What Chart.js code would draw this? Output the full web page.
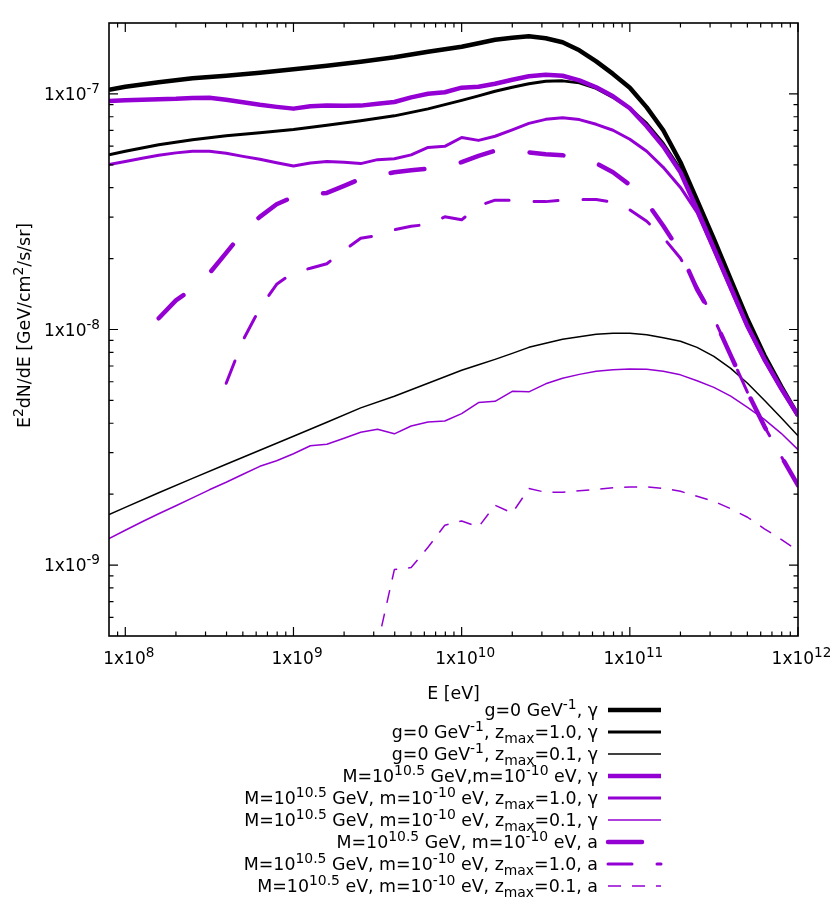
<!DOCTYPE html>
<html>
<head>
<meta charset="utf-8">
<script src="https://cdn.jsdelivr.net/npm/chart.js@4/dist/chart.umd.min.js"></script>
<style>
html,body{margin:0;padding:0;background:#ffffff;}
#c{display:block;}
</style>
</head>
<body>
<canvas id="c" width="830" height="907"></canvas>
<script>
// ---------------- data ----------------
const X_MIN = 8e7, X_MAX = 1e12;
const Y_MIN = 5e-10, Y_MAX = 2e-7;

const X_TICKS = [1e8, 1e9, 1e10, 1e11, 1e12];
const X_TICK_LABELS = ['1x10^{8}', '1x10^{9}', '1x10^{10}', '1x10^{11}', '1x10^{12}'];
const Y_TICKS = [1e-9, 1e-8, 1e-7];
const Y_TICK_LABELS = ['1x10^{-9}', '1x10^{-8}', '1x10^{-7}'];

// energies [eV]
const ENERGY_FINE = [8e7, 1e8, 1.26e8, 1.58e8, 2e8, 2.51e8, 3.16e8, 3.98e8, 5.01e8, 6.31e8, 7.94e8,
  1e9, 1.26e9, 1.58e9, 2e9, 2.51e9, 3.16e9, 3.98e9, 5.01e9, 6.31e9, 7.94e9,
  1e10, 1.26e10, 1.58e10, 2e10, 2.51e10, 3.16e10, 3.98e10, 5.01e10, 6.31e10, 7.94e10,
  1e11, 1.26e11, 1.58e11, 2e11, 2.51e11, 3.16e11, 3.98e11, 5.01e11, 6.31e11, 7.94e11, 1e12];
const ENERGY_BLACK = [8e7, 1e8, 1.58e8, 2.51e8, 3.98e8, 6.31e8,
  1e9, 1.58e9, 2.51e9, 3.98e9, 6.31e9,
  1e10, 1.26e10, 1.58e10, 2e10, 2.51e10, 3.16e10, 3.98e10, 5.01e10, 6.31e10, 7.94e10,
  1e11, 1.26e11, 1.58e11, 2e11, 2.51e11, 3.16e11, 3.98e11, 5.01e11, 6.31e11, 7.94e11, 1e12];
const ENERGY_AXION_ALL = ENERGY_FINE.slice(3);   // from 1.58e8
const ENERGY_AXION_Z1 = ENERGY_FINE.slice(7);    // from 3.98e8
const ENERGY_AXION_Z01 = ENERGY_FINE.slice(15);  // from 2.51e9

// E^2 dN/dE [GeV/cm^2/s/sr]
const G0_GAMMA = [1.041e-7, 1.072e-7, 1.120e-7, 1.165e-7, 1.194e-7, 1.229e-7,
  1.272e-7, 1.316e-7, 1.368e-7, 1.430e-7, 1.509e-7,
  1.585e-7, 1.640e-7, 1.697e-7, 1.730e-7, 1.756e-7, 1.722e-7, 1.656e-7, 1.531e-7, 1.375e-7, 1.216e-7,
  1.063e-7, 8.77e-8, 7.01e-8, 5.13e-8, 3.54e-8, 2.427e-8, 1.634e-8, 1.105e-8, 7.77e-9, 5.74e-9, 4.32e-9];
const G0_Z1_GAMMA = [5.52e-8, 5.71e-8, 6.08e-8, 6.39e-8, 6.64e-8, 6.84e-8,
  7.07e-8, 7.36e-8, 7.69e-8, 8.07e-8, 8.64e-8,
  9.39e-8, 9.81e-8, 1.026e-7, 1.067e-7, 1.104e-7, 1.131e-7, 1.136e-7, 1.114e-7, 1.056e-7, 9.67e-8,
  8.69e-8, 7.50e-8, 6.17e-8, 4.79e-8, 3.37e-8, 2.30e-8, 1.555e-8, 1.062e-8, 7.62e-9, 5.68e-9, 4.32e-9];
const G0_Z01_GAMMA = [1.637e-9, 1.758e-9, 2.027e-9, 2.335e-9, 2.678e-9, 3.071e-9,
  3.521e-9, 4.04e-9, 4.65e-9, 5.21e-9, 5.91e-9,
  6.71e-9, 7.08e-9, 7.47e-9, 7.92e-9, 8.40e-9, 8.74e-9, 9.09e-9, 9.31e-9, 9.54e-9, 9.63e-9,
  9.63e-9, 9.50e-9, 9.22e-9, 8.91e-9, 8.40e-9, 7.69e-9, 6.84e-9, 5.91e-9, 5.01e-9, 4.22e-9, 3.54e-9];
const ALP_GAMMA = [9.33e-8, 9.39e-8, 9.44e-8, 9.49e-8, 9.53e-8, 9.62e-8, 9.64e-8, 9.44e-8, 9.21e-8, 8.99e-8, 8.81e-8,
  8.66e-8, 8.86e-8, 8.94e-8, 8.90e-8, 8.92e-8, 9.09e-8, 9.24e-8, 9.67e-8, 1.001e-7, 1.016e-7,
  1.063e-7, 1.072e-7, 1.104e-7, 1.148e-7, 1.188e-7, 1.205e-7, 1.194e-7, 1.142e-7, 1.067e-7, 9.77e-8,
  8.69e-8, 7.29e-8, 5.99e-8, 4.65e-8, 3.24e-8, 2.211e-8, 1.510e-8, 1.032e-8, 7.47e-9, 5.63e-9, 4.32e-9];
const ALP_Z1_GAMMA = [5.01e-8, 5.17e-8, 5.33e-8, 5.49e-8, 5.62e-8, 5.71e-8, 5.71e-8, 5.60e-8, 5.43e-8, 5.28e-8, 5.10e-8,
  4.94e-8, 5.09e-8, 5.17e-8, 5.13e-8, 5.06e-8, 5.26e-8, 5.31e-8, 5.51e-8, 5.93e-8, 5.99e-8,
  6.53e-8, 6.35e-8, 6.61e-8, 7.04e-8, 7.50e-8, 7.80e-8, 7.93e-8, 7.78e-8, 7.43e-8, 7.01e-8,
  6.42e-8, 5.71e-8, 4.88e-8, 4.01e-8, 3.14e-8, 2.168e-8, 1.480e-8, 1.022e-8, 7.40e-9, 5.57e-9, 4.28e-9];
const ALP_Z01_GAMMA = [1.296e-9, 1.405e-9, 1.527e-9, 1.651e-9, 1.785e-9, 1.930e-9, 2.087e-9, 2.246e-9, 2.429e-9, 2.626e-9, 2.772e-9,
  2.968e-9, 3.209e-9, 3.257e-9, 3.453e-9, 3.661e-9, 3.770e-9, 3.607e-9, 3.894e-9, 4.048e-9, 4.088e-9,
  4.396e-9, 4.894e-9, 4.956e-9, 5.465e-9, 5.438e-9, 5.880e-9, 6.21e-9, 6.45e-9, 6.65e-9, 6.74e-9,
  6.80e-9, 6.78e-9, 6.65e-9, 6.42e-9, 6.06e-9, 5.68e-9, 5.21e-9, 4.675e-9, 4.157e-9, 3.625e-9, 3.092e-9];
const ALP_AXION = [1.116e-8, 1.330e-8, 1.488e-8, 1.731e-8, 2.116e-8, 2.585e-8, 3.008e-8, 3.40e-8,
  3.66e-8, 3.73e-8, 3.80e-8, 4.07e-8, 4.36e-8, 4.51e-8, 4.65e-8, 4.74e-8, 4.82e-8, 4.98e-8,
  5.13e-8, 5.46e-8, 5.74e-8, 5.79e-8, 5.65e-8, 5.55e-8, 5.49e-8, 5.38e-8, 5.08e-8, 4.65e-8,
  4.11e-8, 3.47e-8, 2.755e-8, 2.127e-8, 1.480e-8, 1.116e-8, 7.77e-9, 5.41e-9, 3.88e-9, 2.895e-9, 2.182e-9];
const ALP_Z1_AXION = [5.91e-9, 9.00e-9, 1.230e-8, 1.555e-8,
  1.749e-8, 1.819e-8, 1.901e-8, 2.168e-8, 2.438e-8, 2.51e-8, 2.650e-8, 2.742e-8, 2.796e-8, 3.008e-8,
  2.921e-8, 3.35e-8, 3.54e-8, 3.54e-8, 3.50e-8, 3.49e-8, 3.54e-8, 3.56e-8, 3.56e-8, 3.47e-8,
  3.22e-8, 2.88e-8, 2.46e-8, 2.006e-8, 1.510e-8, 1.116e-8, 7.77e-9, 5.41e-9, 3.88e-9, 2.895e-9, 2.182e-9];
const ALP_Z01_AXION = [2.2e-10, 4.58e-10, 9.57e-10, 9.76e-10, 1.190e-9, 1.475e-9,
  1.539e-9, 1.451e-9, 1.794e-9, 1.664e-9, 2.112e-9, 2.037e-9, 2.037e-9, 2.067e-9, 2.098e-9, 2.129e-9,
  2.146e-9, 2.146e-9, 2.118e-9, 2.056e-9, 1.959e-9, 1.866e-9, 1.734e-9, 1.596e-9, 1.426e-9, 1.287e-9, 1.150e-9];

const SERIES_LABELS = [
  'g=0 GeV^{-1}, γ',
  'g=0 GeV^{-1}, z_{max}=1.0, γ',
  'g=0 GeV^{-1}, z_{max}=0.1, γ',
  'M=10^{10.5} GeV,m=10^{-10} eV, γ',
  'M=10^{10.5} GeV, m=10^{-10} eV, z_{max}=1.0, γ',
  'M=10^{10.5} GeV, m=10^{-10} eV, z_{max}=0.1, γ',
  'M=10^{10.5} GeV, m=10^{-10} eV, a',
  'M=10^{10.5} GeV, m=10^{-10} eV, z_{max}=1.0, a',
  'M=10^{10.5} eV, m=10^{-10} eV, z_{max}=0.1, a'
];
const X_TITLE = 'E [eV]';
const Y_TITLE = 'E^{2}dN/dE [GeV/cm^{2}/s/sr]';

// ---------------- styles ----------------
const BLACK = '#000000', VIOLET = '#9400d3';
const STYLES = [
  {color: BLACK, width: 4.5, dash: []},
  {color: BLACK, width: 3, dash: []},
  {color: BLACK, width: 1.5, dash: []},
  {color: VIOLET, width: 4.5, dash: []},
  {color: VIOLET, width: 3, dash: []},
  {color: VIOLET, width: 1.5, dash: []},
  {color: VIOLET, width: 4.5, dash: [34, 37], cap: 'round'},
  {color: VIOLET, width: 3, dash: [24, 25], cap: 'round'},
  {color: VIOLET, width: 1.5, dash: [13, 11], cap: 'butt'}
];
const SERIES = [
  [ENERGY_BLACK, G0_GAMMA],
  [ENERGY_BLACK, G0_Z1_GAMMA],
  [ENERGY_BLACK, G0_Z01_GAMMA],
  [ENERGY_FINE, ALP_GAMMA],
  [ENERGY_FINE, ALP_Z1_GAMMA],
  [ENERGY_FINE, ALP_Z01_GAMMA],
  [ENERGY_AXION_ALL, ALP_AXION],
  [ENERGY_AXION_Z1, ALP_Z1_AXION],
  [ENERGY_AXION_Z01, ALP_Z01_AXION]
];

const FONT_FAMILY = '"DejaVu Sans", sans-serif';
const FONT_SIZE = 17.4;
const TICK_FONT_SIZE = 17;
const SCRIPT = 0.8;

function parseRich(s) {
  const parts = [];
  let i = 0, buf = '';
  while (i < s.length) {
    const c = s[i];
    if ((c === '^' || c === '_') && s[i + 1] === '{') {
      if (buf) { parts.push({t: buf}); buf = ''; }
      const end = s.indexOf('}', i + 2);
      parts.push({t: s.slice(i + 2, end), s: c === '^' ? 'sup' : 'sub'});
      i = end + 1;
    } else { buf += c; i++; }
  }
  if (buf) parts.push({t: buf});
  return parts;
}
function plainText(s) { return parseRich(s).map(p => p.t).join(''); }
function fontStr(sz) { return sz + 'px ' + FONT_FAMILY; }
function richWidth(ctx, parts, size) {
  let w = 0;
  for (const p of parts) { ctx.font = fontStr(p.s ? size * SCRIPT : size); w += ctx.measureText(p.t).width; }
  return w;
}
// y = vertical centre of the base text
function drawRich(ctx, str, x, y, align, size) {
  size = size || FONT_SIZE;
  const parts = parseRich(str);
  const w = richWidth(ctx, parts, size);
  let cx = align === 'right' ? x - w : (align === 'center' ? x - w / 2 : x);
  const base = y + size * 0.36;
  ctx.textAlign = 'left';
  ctx.textBaseline = 'alphabetic';
  ctx.fillStyle = '#000';
  for (const p of parts) {
    const fs = p.s ? size * SCRIPT : size;
    ctx.font = fontStr(fs);
    let dy = 0;
    if (p.s === 'sup') dy = -size * 0.4;
    if (p.s === 'sub') dy = size * 0.25;
    ctx.fillText(p.t, cx, base + dy);
    cx += ctx.measureText(p.t).width;
  }
}

const axesPlugin = {
  id: 'gnuplotAxes',
  afterDatasetsDraw(chart) {
    const ctx = chart.ctx;
    const a = chart.chartArea;
    const xs = chart.scales.x, ys = chart.scales.y;
    ctx.save();
    // border
    ctx.strokeStyle = '#000';
    ctx.lineWidth = 1.6;
    ctx.setLineDash([]);
    ctx.strokeRect(a.left, a.top, a.right - a.left, a.bottom - a.top);
    ctx.lineWidth = 1.2;
    const MAJ = 9, MIN = 4.5;
    // x ticks
    for (let e = 7; e <= 12; e++) {
      for (let k = 1; k <= 9; k++) {
        const v = k * Math.pow(10, e);
        if (v < X_MIN * 1.0001 || v > X_MAX * 1.0001) continue;
        const px = xs.getPixelForValue(v);
        const len = k === 1 ? MAJ : MIN;
        ctx.beginPath();
        ctx.moveTo(px, a.bottom); ctx.lineTo(px, a.bottom - len);
        ctx.moveTo(px, a.top); ctx.lineTo(px, a.top + len);
        ctx.stroke();
      }
    }
    // y ticks
    for (let e = -10; e <= -7; e++) {
      for (let k = 1; k <= 9; k++) {
        const v = k * Math.pow(10, e);
        if (v < Y_MIN * 1.0001 || v > Y_MAX * 0.9999) continue;
        const py = ys.getPixelForValue(v);
        const len = k === 1 ? MAJ : MIN;
        ctx.beginPath();
        ctx.moveTo(a.left, py); ctx.lineTo(a.left + len, py);
        ctx.moveTo(a.right, py); ctx.lineTo(a.right - len, py);
        ctx.stroke();
      }
    }
    // tick labels
    X_TICKS.forEach((v, i) => {
      drawRich(ctx, X_TICK_LABELS[i], xs.getPixelForValue(v) + 3.5, a.bottom + 22, 'center', TICK_FONT_SIZE);
    });
    Y_TICKS.forEach((v, i) => {
      drawRich(ctx, Y_TICK_LABELS[i], a.left - 9, ys.getPixelForValue(v), 'right', TICK_FONT_SIZE);
    });
    // axis titles
    drawRich(ctx, X_TITLE, (a.left + a.right) / 2, 693, 'center');
    ctx.save();
    ctx.translate(24, 325.5);
    ctx.rotate(-Math.PI / 2);
    drawRich(ctx, Y_TITLE, 0, 0, 'center');
    ctx.restore();
    // legend
    const LX_TEXT = 598, LX0 = 608, LX1 = 661, LY0 = 710, LDY = 22;
    chart.data.datasets.forEach((ds, i) => {
      const y = LY0 + i * LDY;
      drawRich(ctx, SERIES_LABELS[i], LX_TEXT, y, 'right');
      const st = STYLES[i];
      ctx.save();
      ctx.strokeStyle = st.color;
      ctx.lineWidth = st.width;
      ctx.setLineDash(st.dash);
      ctx.lineCap = st.cap || 'butt';
      ctx.beginPath();
      ctx.moveTo(LX0, y); ctx.lineTo(LX1, y);
      ctx.stroke();
      ctx.restore();
    });
    ctx.restore();
  }
};

const datasets = SERIES.map(([ex, ey], i) => ({
  label: plainText(SERIES_LABELS[i]),
  data: ex.map((e, j) => ({x: e, y: ey[j]})),
  borderColor: STYLES[i].color,
  backgroundColor: STYLES[i].color,
  borderWidth: STYLES[i].width,
  borderDash: STYLES[i].dash,
  borderCapStyle: STYLES[i].cap || 'butt',
  borderJoinStyle: 'round',
  pointRadius: 0,
  tension: 0,
  fill: false,
  clip: 0,
  order: SERIES.length - 1 - i
}));

new Chart(document.getElementById('c').getContext('2d'), {
  type: 'line',
  data: {datasets},
  options: {
    responsive: false,
    animation: false,
    devicePixelRatio: 1,
    layout: {padding: {left: 109, right: 32, top: 23, bottom: 271}},
    scales: {
      x: {type: 'logarithmic', min: X_MIN, max: X_MAX, display: false},
      y: {type: 'logarithmic', min: Y_MIN, max: Y_MAX, display: false}
    },
    plugins: {legend: {display: false}, tooltip: {enabled: false}}
  },
  plugins: [axesPlugin]
});
</script>
</body>
</html>
